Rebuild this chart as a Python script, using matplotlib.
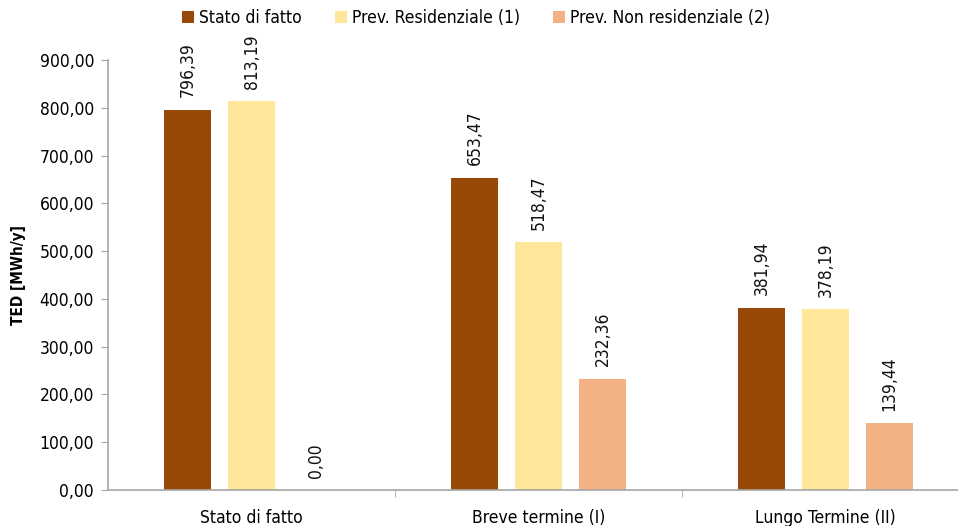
import numpy as np
import matplotlib.pyplot as plt

# Chart data
categories = ["Stato di fatto", "Breve termine (I)", "Lungo Termine (II)"]
series_names = ["Stato di fatto", "Prev. Residenziale (1)", "Prev. Non residenziale (2)"]
stato = [796.39, 653.47, 381.94]
residenziale = [813.19, 518.47, 378.19]
non_residenziale = [0.00, 232.36, 139.44]
colors = ["#984807", "#FFE699", "#F4B183"]

plt.rcParams["font.family"] = ["DejaVu Sans"]
plt.rcParams["font.stretch"] = "condensed"

fig = plt.figure(figsize=(9.58, 5.26), dpi=100)
ax = fig.add_axes([108 / 958, 1 - 490 / 526, 861 / 958, 430 / 526])

x = np.arange(len(categories))
width = 0.167
step = 0.223
for i, (vals, name) in enumerate(zip([stato, residenziale, non_residenziale], series_names)):
    bars = ax.bar(x + (i - 1) * step, vals, width, color=colors[i], label=name)
    for b, v in zip(bars, vals):
        ax.annotate(f"{v:.2f}".replace(".", ","), (b.get_x() + b.get_width() / 2, v),
                    xytext=(0, 9), textcoords="offset points", rotation=90,
                    ha="center", va="bottom", fontsize=12.5, color="#111111")

ax.set_xlim(-0.5, 2.5)
ax.set_ylim(0, 900)
ax.set_yticks(np.arange(0, 901, 100))
ax.set_yticklabels([f"{v:.2f}".replace(".", ",") for v in np.arange(0, 901, 100)])
ax.set_xticks(x)
ax.set_xticklabels(categories)
ax.set_xticks([0.5, 1.5], minor=True)
ax.tick_params(axis="x", which="major", length=0, pad=14, labelsize=12.5)
ax.tick_params(axis="x", which="minor", length=5, color="#a6a6a6", direction="out")
ax.tick_params(axis="y", length=5, color="#a6a6a6", labelsize=12.5, pad=5)

for s in ["top", "right"]:
    ax.spines[s].set_visible(False)
for s in ["left", "bottom"]:
    ax.spines[s].set_color("#a6a6a6")
    ax.spines[s].set_linewidth(1.2)

ax.set_ylabel("TED [MWh/y]", fontweight="bold", fontsize=11, labelpad=10)

fig.legend(loc="center", bbox_to_anchor=(476 / 958, 1 - 18 / 526), ncol=3, frameon=False,
           fontsize=12.5, handlelength=0.7, handleheight=0.7, handletextpad=0.3, columnspacing=1.9)

plt.savefig("out.png", dpi=100)
